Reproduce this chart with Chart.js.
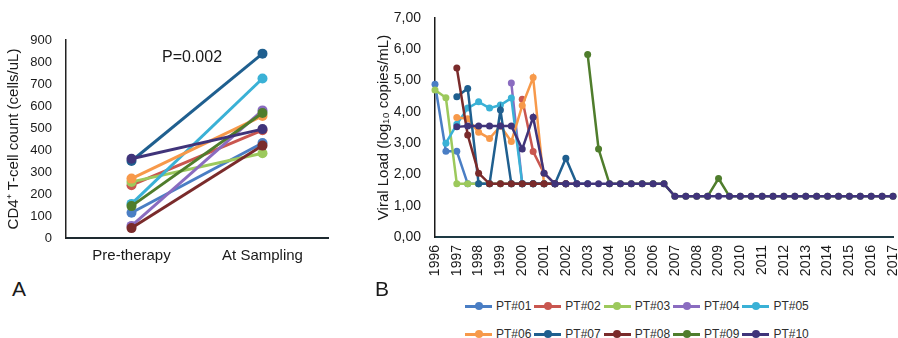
<!DOCTYPE html>
<html lang="en">
<head>
<meta charset="UTF-8">
<title>CD4 count and viral load</title>
<script src="https://cdn.jsdelivr.net/npm/chart.js@4.4.1/dist/chart.umd.min.js"></script>
<style>
    body {
        margin: 0;
        width: 898px;
        height: 338px;
        position: relative;
        overflow: hidden;
        background: #fff;
        font-family: 'Liberation Sans', Arial, sans-serif;
        color: #1a1a1a;
    }
    #panelA { position: absolute; left: 0; top: 0; }
    #panelB { position: absolute; left: 370px; top: 0; }
    .tag { position: absolute; font-size: 21px; line-height: 21px; }
    #legendB {
        position: absolute;
        left: 465px;
        top: 292px;
        width: 370px;
        display: flex;
        flex-wrap: wrap;
    }
    .item { display: flex; align-items: center; height: 28px; margin-right: 3px; font-size: 12px; color: #2e2e2e; }
    .mark { position: relative; width: 27px; height: 3px; margin-right: 4px; }
    .mark span { position: absolute; left: 9.5px; top: -2.5px; width: 8px; height: 8px; border-radius: 50%; }
</style>
</head>
<body>
<canvas id="panelA" width="335" height="275"></canvas>
<canvas id="panelB" width="528" height="292"></canvas>
<div class="tag" style="left:12px; top:278px;">A</div>
<div class="tag" style="left:375px; top:278px;">B</div>
<div id="legendB"></div>

<script>
// patients, shared by both panels
const names = ['PT#01', 'PT#02', 'PT#03', 'PT#04', 'PT#05', 'PT#06', 'PT#07', 'PT#08', 'PT#09', 'PT#10'];
const colors = ['#4a7ec4', '#c9564f', '#9cc95c', '#8a6cc0', '#3ab1d6', '#f7994a', '#1f5f8f', '#7a2b2b', '#4f7d2c', '#40347a'];

// panel A: CD4+ T-cell counts
const groups = ['Pre-therapy', 'At Sampling'];
const cd4Pre = [115, 240, 255, 55, 155, 270, 350, 45, 145, 360];
const cd4Post = [432, 490, 385, 580, 725, 555, 838, 420, 568, 495];
const pText = 'P=0.002';

// panel B: viral load, one point every half year
const halfYears = ['1996', '1996.5', '1997', '1997.5', '1998', '1998.5', '1999', '1999.5', '2000', '2000.5',
    '2001', '2001.5', '2002', '2002.5', '2003', '2003.5', '2004', '2004.5', '2005', '2005.5',
    '2006', '2006.5', '2007', '2007.5', '2008', '2008.5', '2009', '2009.5', '2010', '2010.5',
    '2011', '2011.5', '2012', '2012.5', '2013', '2013.5', '2014', '2014.5', '2015', '2015.5',
    '2016', '2016.5', '2017'];
const vl01 = [4.88, 2.74, 2.74, 1.70, 1.70, 1.70, 1.70, 1.70, 1.70, 1.70, 1.70, 1.70, 1.70];
const vl02 = [null, null, null, null, null, null, null, null, 4.40, 2.73, 2.04, 1.70, 1.70, 1.70];
const vl03 = [4.70, 4.45, 1.70, 1.70, 1.70, 1.70, 1.70, 1.70, 1.70, 1.70, 1.70, 1.70, 1.70];
const vl04 = [null, null, null, null, null, null, null, 4.92, 1.70, 1.70, 1.70, 1.70, 1.70];
const vl05 = [null, 3.00, 3.60, 4.12, 4.32, 4.12, 4.22, 4.44, 1.70, 1.70, 1.70, 1.70, 1.70];
const vl06 = [null, null, 3.82, 3.78, 3.35, 3.15, 3.55, 3.05, 4.20, 5.10, 1.70, 1.70, 1.70];
const vl07 = [null, null, 4.48, 4.75, 1.70, 1.70, 4.06, 1.70, 1.70, 1.70, 1.70, 1.70, 2.52, 1.70, 1.70];
const vl08 = [null, null, 5.40, 3.26, 2.04, 1.70, 1.70, 1.70, 1.70, 1.70, 1.70, 1.70, 1.70];
const vl09 = [null, null, null, null, null, null, null, null, null, null, null, null, null, null,
    5.83, 2.81, 1.70, 1.70, 1.70, 1.70, 1.70, 1.70, 1.30, 1.30, 1.30, 1.30, 1.87, 1.30, 1.30, 1.30,
    1.30, 1.30, 1.30, 1.30, 1.30, 1.30, 1.30, 1.30, 1.30, 1.30, 1.30, 1.30, 1.30];
const vl10 = [null, null, 3.52, 3.55, 3.55, 3.55, 3.55, 3.55, 2.81, 3.83, 2.04, 1.70, 1.70, 1.70,
    1.70, 1.70, 1.70, 1.70, 1.70, 1.70, 1.70, 1.70, 1.30, 1.30, 1.30, 1.30, 1.30, 1.30, 1.30, 1.30,
    1.30, 1.30, 1.30, 1.30, 1.30, 1.30, 1.30, 1.30, 1.30, 1.30, 1.30, 1.30, 1.30];
const viralLoads = [vl01, vl02, vl03, vl04, vl05, vl06, vl07, vl08, vl09, vl10];

Chart.defaults.font.family = "'Liberation Sans', Arial, sans-serif";
Chart.defaults.color = '#1a1a1a';
Chart.defaults.animation = false;

// p-value text between the two groups
const pLabel = {
    id: 'pLabel',
    afterDatasetsDraw(chart) {
        const {ctx, scales: {x, y}} = chart;
        ctx.save();
        ctx.font = "16px 'Liberation Sans', Arial, sans-serif";
        ctx.fillStyle = '#1a1a1a';
        ctx.textAlign = 'center';
        ctx.textBaseline = 'middle';
        ctx.fillText(pText, (x.getPixelForValue(0) + x.getPixelForValue(1)) / 2 - 5, y.getPixelForValue(820));
        ctx.restore();
    }
};

// later patients are drawn on top (order), like the original spreadsheet chart
new Chart(document.getElementById('panelA'), {
    type: 'line',
    data: {
        labels: groups,
        datasets: names.map((name, i) => ({
            label: name,
            data: [cd4Pre[i], cd4Post[i]],
            borderColor: colors[i],
            backgroundColor: colors[i],
            borderWidth: 3,
            pointRadius: 5,
            pointBorderWidth: 0,
            order: names.length - i
        }))
    },
    options: {
        responsive: false,
        layout: { padding: { top: 40, right: 7, bottom: 0, left: 0 } },
        plugins: { legend: { display: false }, tooltip: { enabled: false } },
        scales: {
            x: {
                offset: true,
                grid: { display: false, drawTicks: false },
                border: { display: true, color: '#1e2a30', width: 2 },
                ticks: { font: { size: 15 }, padding: 9 },
                afterFit: s => { s.height = 37; s.paddingLeft = 0; s.paddingRight = 0; }
            },
            y: {
                min: 0,
                max: 900,
                grid: { display: false, drawTicks: false },
                border: { display: true, color: '#222', width: 1.5 },
                ticks: { stepSize: 100, font: { size: 13 }, padding: 14 },
                title: { display: true, text: 'CD4⁺ T-cell count (cells/uL)', font: { size: 15 }, padding: { top: 5, bottom: 0 } },
                afterFit: s => { s.width = 66; s.paddingTop = 0; s.paddingBottom = 0; }
            }
        }
    },
    plugins: [pLabel]
});

new Chart(document.getElementById('panelB'), {
    type: 'line',
    data: {
        labels: halfYears,
        datasets: names.map((name, i) => ({
            label: name,
            data: viralLoads[i],
            borderColor: colors[i],
            backgroundColor: colors[i],
            borderWidth: 2.5,
            pointRadius: 3.5,
            pointBorderWidth: 0,
            clip: false,
            order: names.length - i
        }))
    },
    options: {
        responsive: false,
        layout: { padding: { top: 18, right: 5, bottom: 0, left: 0 } },
        plugins: { legend: { display: false }, tooltip: { enabled: false } },
        scales: {
            x: {
                grid: { display: false, drawTicks: false },
                border: { display: true, color: '#1e3a44', width: 2 },
                ticks: {
                    autoSkip: false,
                    minRotation: 90,
                    maxRotation: 90,
                    font: { size: 14 },
                    padding: 8,
                    callback(value) {
                        const label = this.getLabelForValue(value);
                        return label.includes('.') ? '' : label;
                    }
                },
                afterFit: s => { s.height = 55; s.paddingLeft = 0; s.paddingRight = 0; }
            },
            y: {
                min: 0,
                max: 7,
                grid: { display: false, drawTicks: false },
                border: { display: true, color: '#1a1a1a', width: 1.5 },
                ticks: {
                    stepSize: 1,
                    font: { size: 14 },
                    padding: 14,
                    callback: v => v.toFixed(2).replace('.', ',')
                },
                title: { display: true, text: 'Viral Load (log₁₀ copies/mL)', font: { size: 15 }, padding: { top: 5, bottom: 0 } },
                afterFit: s => { s.width = 65; s.paddingTop = 0; s.paddingBottom = 0; }
            }
        }
    }
});

// legend for panel B, two rows of five like the original
const legendBox = document.getElementById('legendB');
names.forEach((name, i) => {
    const item = document.createElement('div');
    item.className = 'item';
    item.innerHTML = '<div class="mark" style="background:' + colors[i] + '"><span style="background:' + colors[i] + '"></span></div>' + name;
    legendBox.appendChild(item);
});
</script>
</body>
</html>
